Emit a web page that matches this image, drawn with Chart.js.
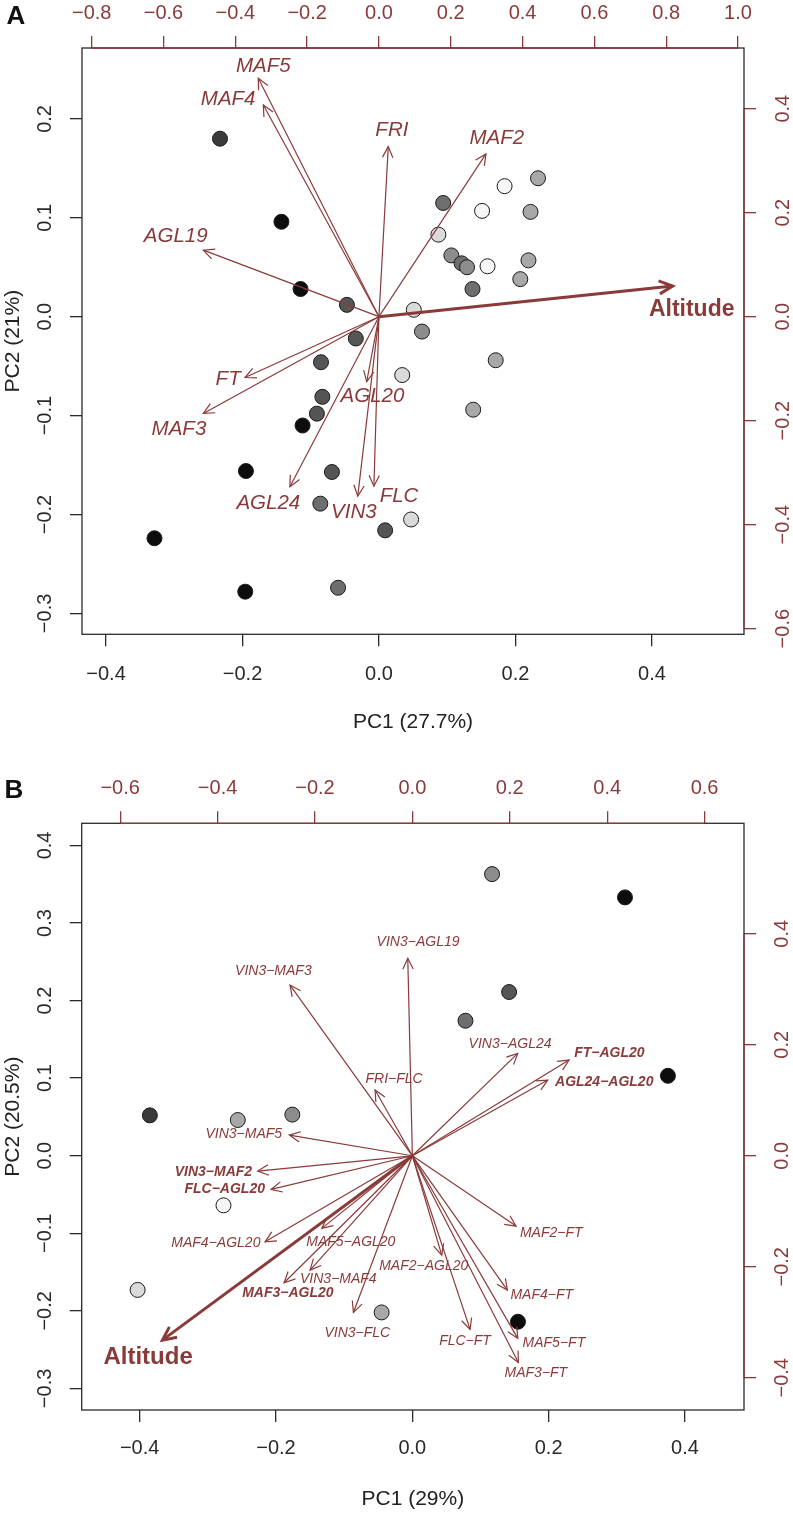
<!DOCTYPE html>
<html><head><meta charset="utf-8">
<script src="https://cdn.jsdelivr.net/npm/chart.js@4/dist/chart.umd.min.js"></script>
<style>
html,body{margin:0;padding:0;background:#fff;}
#wrap{position:relative;width:793px;height:1513px;overflow:hidden;}
canvas{position:absolute;left:0;}
#cA{top:0;}
#cB{top:745px;}
</style></head><body>
<div id="wrap"><canvas id="cA" width="793" height="745"></canvas><canvas id="cB" width="793" height="768"></canvas></div>
<script>
// ---------------- DATA: Panel A ----------------
const scoreAX = [-0.233,-0.143,-0.115,-0.047,-0.034,-0.085,-0.083,-0.091,-0.112,-0.195,-0.069,-0.086,0.009,-0.329,-0.196,-0.060,0.034,0.063,0.171,0.138,0.047,0.233,0.184,0.094,0.151,0.222,0.087,0.106,0.121,0.129,0.159,0.219,0.207,0.137,0.051];
const scoreAY = [0.180,0.096,0.028,0.012,-0.022,-0.046,-0.081,-0.098,-0.110,-0.156,-0.157,-0.189,-0.216,-0.224,-0.278,-0.274,-0.059,-0.015,-0.044,-0.094,-0.205,0.140,0.132,0.115,0.107,0.106,0.083,0.062,0.054,0.050,0.051,0.057,0.038,0.028,0.007];
const scoreAGroup = [1,0,0,2,2,2,2,2,0,0,2,3,2,0,0,3,6,4,5,5,6,5,7,3,7,5,6,4,3,4,7,5,5,3,6];
const loadANames = ['MAF5','MAF4','FRI','MAF2','AGL19','Altitude','FT','MAF3','AGL20','AGL24','VIN3','FLC'];
const loadAX = [-0.336,-0.322,0.026,0.298,-0.489,0.818,-0.373,-0.489,-0.034,-0.248,-0.059,-0.014];
const loadAY = [0.4585,0.407,0.327,0.313,0.128,0.059,-0.117,-0.186,-0.125,-0.327,-0.345,-0.326];
const labelAX = [-0.322,-0.420,0.036,0.328,-0.566,0.871,-0.420,-0.557,-0.018,-0.308,-0.070,0.056];
const labelAY = [0.481,0.419,0.359,0.343,0.155,0.014,-0.120,-0.217,-0.154,-0.358,-0.377,-0.346];
const ticksAX = [-0.4,-0.2,0,0.2,0.4];
const ticksAY = [-0.3,-0.2,-0.1,0,0.1,0.2];
const ticksAX2 = [-0.8,-0.6,-0.4,-0.2,0,0.2,0.4,0.6,0.8,1.0];
const ticksAY2 = [-0.6,-0.4,-0.2,0,0.2,0.4];
const titleAX = 'PC1 (27.7%)';
const titleAY = 'PC2 (21%)';

// ---------------- DATA: Panel B ----------------
const scoreBX = [0.117,0.312,0.142,0.078,0.375,-0.385,-0.256,-0.176,-0.277,-0.403,-0.045,0.155];
const scoreBY = [0.363,0.333,0.211,0.174,0.103,0.052,0.046,0.053,-0.064,-0.173,-0.202,-0.214];
const scoreBGroup = [4,0,2,3,0,1,5,4,7,6,5,0];
const loadBNames = ['VIN3−AGL19','VIN3−MAF3','FRI−FLC','VIN3−AGL24','FT−AGL20','AGL24−AGL20','VIN3−MAF5','VIN3−MAF2','FLC−AGL20','MAF4−AGL20','MAF5−AGL20','VIN3−MAF4','MAF3−AGL20','VIN3−FLC','Altitude','MAF2−AGL20','FLC−FT','MAF2−FT','MAF4−FT','MAF5−FT','MAF3−FT'];
const loadBX = [-0.0094,-0.2511,-0.0766,0.2164,0.3218,0.278,-0.2526,-0.3175,-0.2901,-0.3025,-0.186,-0.21,-0.2634,-0.1211,-0.5133,0.0603,0.1185,0.2129,0.1951,0.2164,0.2177];
const loadBY = [0.3557,0.3076,0.1184,0.1845,0.1724,0.1364,0.0373,-0.0276,-0.0606,-0.155,-0.1308,-0.206,-0.2288,-0.2822,-0.3321,-0.1789,-0.3128,-0.1267,-0.242,-0.329,-0.3723];
const labelBX = [0.0117,-0.2854,-0.0376,0.2006,0.4045,0.394,-0.3462,-0.4086,-0.3853,-0.4035,-0.1263,-0.152,-0.2557,-0.1131,-0.5427,0.0234,0.1082,0.2852,0.2657,0.2906,0.2536];
const labelBY = [0.3845,0.3333,0.1377,0.2013,0.1856,0.1322,0.0391,-0.0288,-0.0606,-0.1567,-0.155,-0.2227,-0.2468,-0.3189,-0.364,-0.1987,-0.3333,-0.1387,-0.2515,-0.3369,-0.3921];
const boldBNames = ['FT−AGL20','AGL24−AGL20','VIN3−MAF2','FLC−AGL20','MAF3−AGL20'];
const ticksBX = [-0.4,-0.2,0,0.2,0.4];
const ticksBY = [-0.3,-0.2,-0.1,0,0.1,0.2,0.3,0.4];
const ticksBX2 = [-0.6,-0.4,-0.2,0,0.2,0.4,0.6];
const ticksBY2 = [-0.4,-0.2,0,0.2,0.4];
const titleBX = 'PC1 (29%)';
const titleBY = 'PC2 (20.5%)';

// ---------------- STYLE ----------------
const FONT = '"Liberation Sans", Arial, Helvetica, sans-serif';
const BROWN = '#8B3A3A';
const AXISCOL = '#2a2a2a';
const GRAYS = ['#0d0d0d','#3a3a3a','#555555','#6e6e6e','#8c8c8c','#a8a8a8','#dadada','#f6f6f6'];

function fmt(v){ const s = Math.abs(v) < 1e-9 ? '0.0' : v.toFixed(1); return s.replace('-', '\u2212'); }

function axis(pos, min, max, ticks, color, pad, size, title, titlePad){
  const vertical = (pos === 'left' || pos === 'right');
  const o = {
    type: 'linear', position: pos, min: min, max: max,
    afterBuildTicks: s => { s.ticks = ticks.map(v => ({value: v})); },
    afterFit: s => { if (vertical) s.width = size; else s.height = size; },
    grid: {display: true, drawOnChartArea: false, drawTicks: true, tickLength: 12, color: color, lineWidth: 1.3},
    border: {display: false},
    ticks: {color: color, font: {family: FONT, size: 20}, padding: pad, autoSkip: false,
      callback: v => fmt(v),
      minRotation: vertical ? 90 : 0, maxRotation: vertical ? 90 : 0,
      crossAlign: vertical ? 'center' : 'near'},
    title: {display: false}
  };
  if (title) {
    o.title = {display: true, text: title, color: '#222', font: {family: FONT, size: 21}, padding: titlePad};
  }
  return o;
}

const biplot = {
  id: 'biplot',
  afterDatasetsDraw(chart, args, opts){
    const ctx = chart.ctx;
    const x2 = chart.scales.x2, y2 = chart.scales.y2;
    ctx.save();
    chart.data.datasets.forEach((ds, di) => {
      if (ds.arrowName === undefined) return;
      const meta = chart.getDatasetMeta(di);
      const p0 = meta.data[0], p1 = meta.data[1];
      const ang = Math.atan2(p1.y - p0.y, p1.x - p0.x);
      const big = ds.arrowName === 'Altitude';
      const L = big ? 15 : 12, a = Math.PI / 7;
      ctx.strokeStyle = BROWN; ctx.lineWidth = big ? 3 : 1.2; ctx.lineJoin = 'miter';
      ctx.beginPath();
      ctx.moveTo(p1.x - L * Math.cos(ang - a), p1.y - L * Math.sin(ang - a));
      ctx.lineTo(p1.x, p1.y);
      ctx.lineTo(p1.x - L * Math.cos(ang + a), p1.y - L * Math.sin(ang + a));
      ctx.stroke();
      const lx = x2.getPixelForValue(ds.labelX), ly = y2.getPixelForValue(ds.labelY);
      let f;
      if (big) f = 'bold ' + opts.altSize + 'px ' + FONT;
      else if (opts.bold.indexOf(ds.arrowName) >= 0) f = 'italic bold ' + opts.labSize + 'px ' + FONT;
      else f = 'italic ' + opts.labSize + 'px ' + FONT;
      ctx.font = f; ctx.fillStyle = BROWN; ctx.textAlign = 'center'; ctx.textBaseline = 'middle';
      ctx.fillText(ds.arrowName, lx, ly);
    });
    ctx.restore();
  },
  afterDraw(chart, args, opts){
    const ctx = chart.ctx, ca = chart.chartArea;
    const x2 = chart.scales.x2, y2 = chart.scales.y2;
    ctx.save();
    ctx.lineWidth = 1.3; ctx.strokeStyle = AXISCOL;
    ctx.strokeRect(ca.left, ca.top, ca.right - ca.left, ca.bottom - ca.top);
    const tx = x2.ticks, ty = y2.ticks;
    ctx.strokeStyle = BROWN;
    ctx.beginPath();
    ctx.moveTo(x2.getPixelForValue(tx[0].value), ca.top);
    ctx.lineTo(x2.getPixelForValue(tx[tx.length - 1].value), ca.top);
    ctx.moveTo(ca.right, y2.getPixelForValue(ty[0].value));
    ctx.lineTo(ca.right, y2.getPixelForValue(ty[ty.length - 1].value));
    ctx.stroke();
    ctx.fillStyle = '#111'; ctx.font = 'bold 26px ' + FONT; ctx.textAlign = 'center'; ctx.textBaseline = 'middle';
    ctx.fillText(opts.letter, opts.letterX, opts.letterY);
    ctx.restore();
  }
};

function build(canvasId, d){
  const datasets = [];
  d.names.forEach((n, i) => {
    datasets.push({type: 'line', data: [{x: 0, y: 0}, {x: d.lx[i], y: d.ly[i]}], xAxisID: 'x2', yAxisID: 'y2',
      borderColor: BROWN, borderWidth: n === 'Altitude' ? 3 : 1.2, pointRadius: 0, fill: false, tension: 0, order: 1,
      arrowName: n, labelX: d.labX[i], labelY: d.labY[i]});
  });
  datasets.push({type: 'scatter', data: d.sx.map((x, i) => ({x: x, y: d.sy[i]})), xAxisID: 'x', yAxisID: 'y',
    pointRadius: 7.5, pointHoverRadius: 7.5, pointBackgroundColor: d.sg.map(g => GRAYS[g]), pointBorderColor: '#1a1a1a', pointBorderWidth: 1, showLine: false, order: 2});
  new Chart(document.getElementById(canvasId), {
    type: 'scatter',
    data: {datasets: datasets},
    options: {
      responsive: false, animation: false, devicePixelRatio: 1,
      layout: {padding: 0},
      plugins: {legend: {display: false}, tooltip: {enabled: false}, biplot: d.plug},
      scales: d.scales
    },
    plugins: [biplot]
  });
}

const H_A = 745, H_B = 768;
build('cA', {
  names: loadANames, lx: loadAX, ly: loadAY, labX: labelAX, labY: labelAY,
  sx: scoreAX, sy: scoreAY, sg: scoreAGroup,
  plug: {letter: 'A', letterX: 16, letterY: 17, labSize: 20.5, altSize: 23, bold: []},
  scales: {
    x: axis('bottom', -0.4352, 0.5348, ticksAX, AXISCOL, 15.9, H_A - 634.3, titleAX, {top: 0, bottom: 10.4}),
    y: axis('left', -0.3211, 0.2717, ticksAY, AXISCOL, 4.3, 82, titleAY, {top: 0.5, bottom: 0}),
    x2: axis('top', -0.827, 1.0167, ticksAX2, BROWN, 10.5, 48),
    y2: axis('right', -0.6108, 0.5167, ticksAY2, BROWN, 7.5, 49)
  }
});
build('cB', {
  names: loadBNames, lx: loadBX, ly: loadBY, labX: labelBX, labY: labelBY,
  sx: scoreBX, sy: scoreBY, sg: scoreBGroup,
  plug: {letter: 'B', letterX: 14, letterY: 46, labSize: 14, altSize: 24, bold: boldBNames},
  scales: {
    x: axis('bottom', -0.485, 0.4866, ticksBX, AXISCOL, 14.8, H_B - 665, titleBX, {top: 0, bottom: 1.4}),
    y: axis('left', -0.3278, 0.4285, ticksBY, AXISCOL, 4.7, 81.7, titleBY, {top: 0.5, bottom: 0}),
    x2: axis('top', -0.679, 0.681, ticksBX2, BROWN, 11, 78.3),
    y2: axis('right', -0.458, 0.599, ticksBY2, BROWN, 6.5, 49)
  }
});
</script>
</body></html>
